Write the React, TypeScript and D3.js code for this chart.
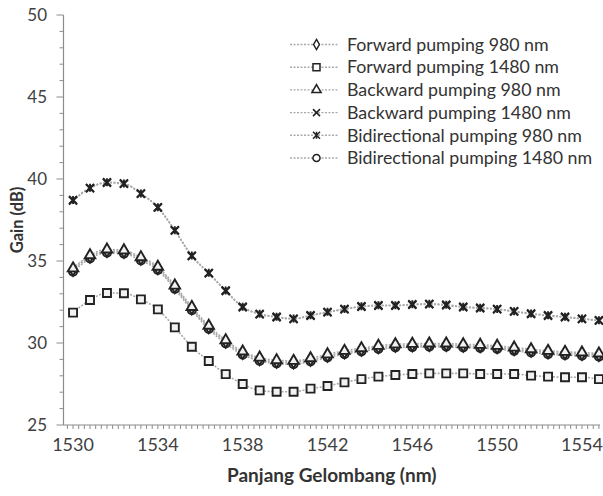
import React from "react";
import * as d3 from "d3";

// Wavelength samples (nm)
const wavelengths = [
  1530, 1530.8, 1531.6, 1532.4, 1533.2, 1534, 1534.8, 1535.6, 1536.4, 1537.2,
  1538, 1538.8, 1539.6, 1540.4, 1541.2, 1542, 1542.8, 1543.6, 1544.4, 1545.2,
  1546, 1546.8, 1547.6, 1548.4, 1549.2, 1550, 1550.8, 1551.6, 1552.4, 1553.2,
  1554, 1554.8,
];

// Gain (dB) per pumping scheme
const forward980 = [
  34.45, 35.25, 35.6, 35.55, 35.13, 34.55, 33.4, 32.1, 30.95, 30.07,
  29.38, 29.01, 28.85, 28.81, 28.97, 29.21, 29.42, 29.58, 29.73, 29.82,
  29.85, 29.87, 29.87, 29.82, 29.79, 29.73, 29.62, 29.52, 29.42, 29.36,
  29.32, 29.26,
];
const forward1480 = [
  31.85, 32.62, 33.05, 33.03, 32.66, 32.05, 30.95, 29.77, 28.9, 28.1,
  27.5, 27.11, 27.03, 27.03, 27.22, 27.38, 27.6, 27.8, 27.95, 28.05,
  28.11, 28.15, 28.15, 28.15, 28.11, 28.11, 28.11, 28.01, 27.95, 27.91,
  27.91, 27.8,
];
const backward980 = [
  34.55, 35.35, 35.7, 35.65, 35.23, 34.65, 33.5, 32.2, 31.05, 30.17,
  29.48, 29.11, 28.95, 28.91, 29.07, 29.31, 29.52, 29.68, 29.83, 29.92,
  29.95, 29.97, 29.97, 29.92, 29.89, 29.83, 29.72, 29.62, 29.52, 29.46,
  29.42, 29.36,
];
const backward1480 = [
  38.68, 39.43, 39.77, 39.7, 39.09, 38.25, 36.85, 35.3, 34.25, 33.17,
  32.18, 31.75, 31.57, 31.46, 31.66, 31.87, 32.05, 32.21, 32.27, 32.27,
  32.33, 32.36, 32.3, 32.18, 32.12, 32.05, 31.91, 31.77, 31.66, 31.57,
  31.46, 31.36,
];
const bidirectional980 = [
  38.72, 39.46, 39.8, 39.73, 39.12, 38.28, 36.88, 35.33, 34.28, 33.2,
  32.21, 31.78, 31.6, 31.49, 31.69, 31.9, 32.08, 32.24, 32.3, 32.3,
  32.36, 32.39, 32.33, 32.21, 32.15, 32.08, 31.94, 31.8, 31.69, 31.6,
  31.49, 31.39,
];
const bidirectional1480 = [
  34.35, 35.15, 35.5, 35.45, 35.03, 34.45, 33.3, 32.0, 30.85, 29.97,
  29.28, 28.91, 28.75, 28.71, 28.87, 29.11, 29.32, 29.48, 29.63, 29.72,
  29.75, 29.77, 29.77, 29.72, 29.69, 29.63, 29.52, 29.42, 29.32, 29.26,
  29.22, 29.16,
];

const seriesNames = [
  "Forward pumping 980 nm",
  "Forward pumping 1480 nm",
  "Backward pumping 980 nm",
  "Backward pumping 1480 nm",
  "Bidirectional pumping 980 nm",
  "Bidirectional pumping 1480 nm",
];
const seriesValues = [
  forward980,
  forward1480,
  backward980,
  backward1480,
  bidirectional980,
  bidirectional1480,
];
const markerKinds = ["diamond", "square", "triangle", "x", "asterisk", "circle"];

const xTickValues = [1530, 1534, 1538, 1542, 1546, 1550, 1554];
const yTickValues = [25, 30, 35, 40, 45, 50];

const W = 603;
const H = 496;
const FONT = "Lato, 'Open Sans', 'DejaVu Sans', sans-serif";
const MARK = "#222";
const LINE = "#a9a9a9";
const AXIS = "#8c8c8c";
const TEXT = "#404040";

function markerPath(kind: string, s: number): string {
  switch (kind) {
    case "diamond":
      return d3.symbol(d3.symbolDiamond, s * s * 0.6)() as string;
    case "square":
      return d3.symbol(d3.symbolSquare, s * s)() as string;
    case "triangle":
      return d3.symbol(d3.symbolTriangle, s * s * 0.75)() as string;
    case "circle":
      return d3.symbol(d3.symbolCircle, s * s * 0.8)() as string;
    case "x": {
      const h = s / 2;
      return `M${-h},${-h}L${h},${h}M${-h},${h}L${h},${-h}`;
    }
    case "asterisk": {
      const h = s / 2;
      return `M${-h},${-h}L${h},${h}M${-h},${h}L${h},${-h}M0,${-h}L0,${h}`;
    }
  }
  return "";
}

export default function App() {
  const x = d3.scaleLinear().domain([1529.55, 1554.85]).range([63.5, 600]);
  const y = d3.scaleLinear().domain([25, 50]).range([425, 15]);

  const line = d3
    .line<number>()
    .x((_, i) => x(wavelengths[i]))
    .y((d) => y(d))
    .curve(d3.curveMonotoneX);

  // minor ticks on the wavelength axis: 15 per labelled interval
  const minorStep = 4 / 15;
  const xMinor: number[] = [];
  for (let k = -1; k * minorStep + 1530 <= 1554.85; k++) {
    const v = 1530 + k * minorStep;
    if (v >= 1529.55) xMinor.push(v);
  }
  const yMinor = d3.range(25, 51, 1);

  const [x0, x1] = x.range();
  const [yb, yt] = y.range();

  const drawOrder = [1, 5, 0, 2, 3, 4];

  return (
    <svg
      width={W}
      height={H}
      style={{ position: "absolute", left: 0, top: 0, background: "#fff" }}
      fontFamily={FONT}
    >
      <rect width={W} height={H} fill="#fff" />

      {/* series lines */}
      {drawOrder.map((si) => (
        <path
          key={"l" + si}
          d={line(seriesValues[si]) as string}
          fill="none"
          stroke={LINE}
          strokeWidth={1.6}
          strokeDasharray="2 1.5"
        />
      ))}

      {/* series markers */}
      {drawOrder.map((si) => (
        <g key={"m" + si}>
          {seriesValues[si].map((v, i) => (
            <path
              key={i}
              transform={`translate(${x(wavelengths[i])},${y(v)})`}
              d={markerPath(markerKinds[si], 8)}
              fill={markerKinds[si] === "x" || markerKinds[si] === "asterisk" ? "none" : "#f2f2f2"}
              stroke={MARK}
              strokeWidth={1.9}
            />
          ))}
        </g>
      ))}

      {/* y axis */}
      <line x1={x0} x2={x0} y1={yb} y2={yt} stroke={AXIS} strokeWidth={1.2} />
      {yMinor.map((v) => (
        <line
          key={"ym" + v}
          x1={x0 - (v % 5 === 0 ? 7 : 4)}
          x2={x0}
          y1={y(v)}
          y2={y(v)}
          stroke={AXIS}
          strokeWidth={1}
        />
      ))}
      {yTickValues.map((v) => (
        <text
          key={"yt" + v}
          x={47}
          y={y(v)}
          dy="0.35em"
          textAnchor="end"
          fontSize={17}
          fill={TEXT}
        >
          {v}
        </text>
      ))}

      {/* x axis */}
      <line x1={x0} x2={x1} y1={yb} y2={yb} stroke={AXIS} strokeWidth={1.2} />
      {xMinor.map((v, i) => (
        <line
          key={"xm" + i}
          x1={x(v)}
          x2={x(v)}
          y1={yb}
          y2={yb + 4}
          stroke={AXIS}
          strokeWidth={1}
        />
      ))}
      {xTickValues.map((v) => (
        <text
          key={"xt" + v}
          x={x(v)}
          y={451}
          textAnchor="middle"
          fontSize={18}
          fill={TEXT}
        >
          {v}
        </text>
      ))}

      {/* axis titles */}
      <text
        x={(x0 + x1) / 2}
        y={482}
        textAnchor="middle"
        fontSize={19}
        fontWeight="bold"
        fill="#333"
      >
        Panjang Gelombang (nm)
      </text>
      <text
        transform={`translate(23,${(yb + yt) / 2}) rotate(-90)`}
        textAnchor="middle"
        fontSize={16.5}
        fontWeight="bold"
        fill="#333"
      >
        Gain (dB)
      </text>

      {/* legend */}
      {seriesNames.map((name, i) => {
        const ly = 44.5 + i * 22.7;
        return (
          <g key={"lg" + i}>
            <line
              x1={290}
              x2={338}
              y1={ly}
              y2={ly}
              stroke={LINE}
              strokeWidth={1.4}
              strokeDasharray="2 1.5"
            />
            <path
              transform={`translate(316.5,${ly})`}
              d={markerPath(markerKinds[i], 7)}
              fill={markerKinds[i] === "x" || markerKinds[i] === "asterisk" ? "none" : "#fff"}
              stroke={MARK}
              strokeWidth={1.5}
            />
            <text x={347} y={ly} dy="0.35em" fontSize={17.8} fill="#333">
              {name}
            </text>
          </g>
        );
      })}
    </svg>
  );
}
